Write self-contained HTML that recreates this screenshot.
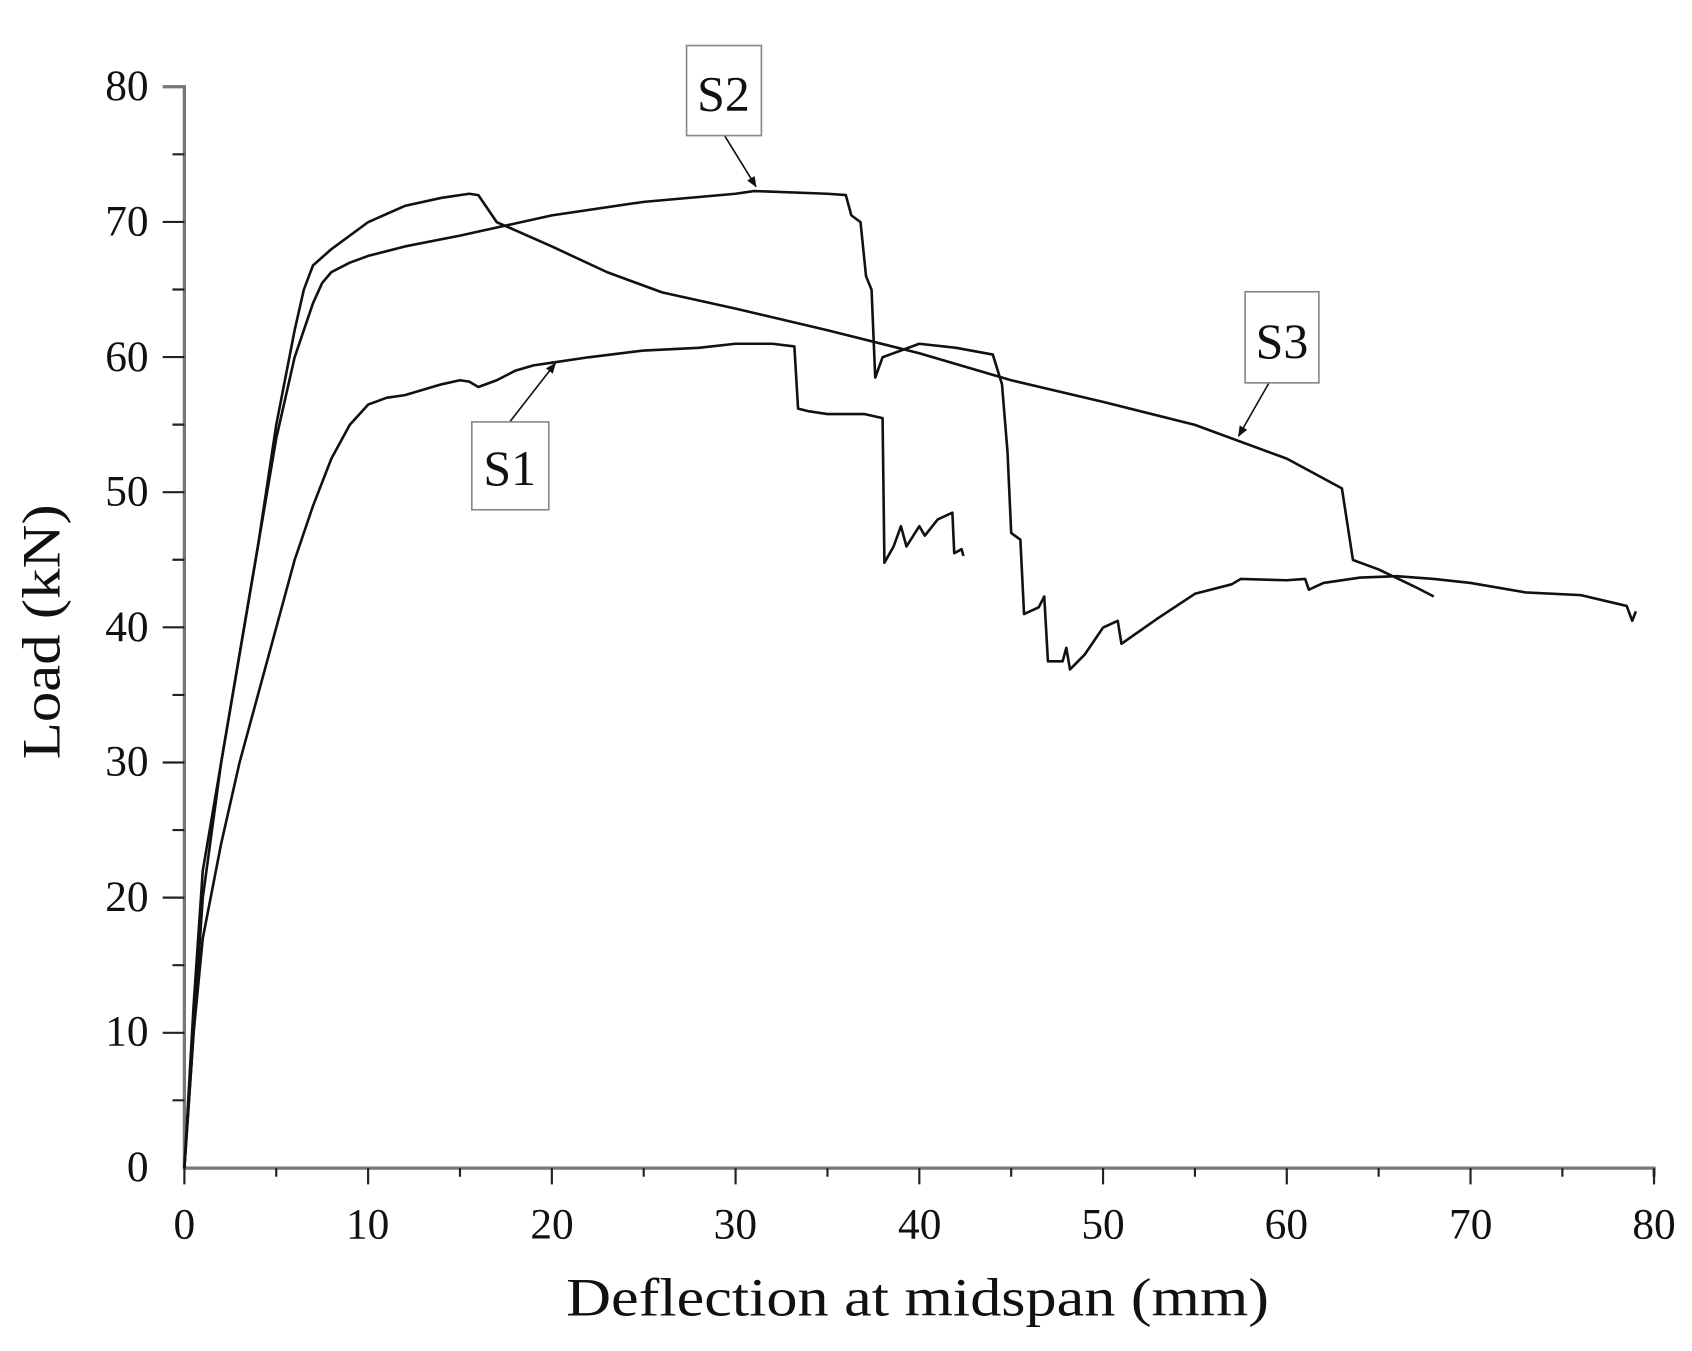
<!DOCTYPE html><html><head><style>body{margin:0;background:#fff}svg{display:block}</style></head><body>
<svg width="1692" height="1351" viewBox="0 0 1560 1245.6" preserveAspectRatio="none" xmlns="http://www.w3.org/2000/svg" font-family="Liberation Serif, serif">
<defs><marker id="ar" markerWidth="10" markerHeight="10" refX="9" refY="5" orient="auto" markerUnits="userSpaceOnUse"><path d="M0,1 L10,5 L0,9 z" fill="#111"/></marker></defs>
<g stroke="#777" stroke-width="3" fill="none">
<path d="M150,80 H170 V1077 H1525 V1085"/>
</g>
<g stroke="#222" stroke-width="2">
<path d="M150,204.6H170M150,329.2H170M150,453.8H170M150,578.4H170M150,703H170M150,827.6H170M150,952.2H170"/>
<path d="M159,142.3H170M159,266.9H170M159,391.5H170M159,516.1H170M159,640.7H170M159,765.3H170M159,889.9H170M159,1014.5H170"/>
<path d="M170,1077v15M339.4,1077v15M508.8,1077v15M678.2,1077v15M847.6,1077v15M1017,1077v15M1186.4,1077v15M1355.8,1077v15M1525,1077v15"/>
<path d="M254.7,1077v8M424.1,1077v8M593.5,1077v8M762.9,1077v8M932.3,1077v8M1101.7,1077v8M1271.1,1077v8M1440.5,1077v8"/>
</g>
<g font-size="40" fill="#111" text-anchor="end">
<text x="137" y="92">80</text><text x="137" y="217">70</text><text x="137" y="342">60</text><text x="137" y="466">50</text><text x="137" y="591">40</text><text x="137" y="715">30</text><text x="137" y="840">20</text><text x="137" y="964">10</text><text x="137" y="1089">0</text>
</g>
<g font-size="40" fill="#111" text-anchor="middle">
<text x="170" y="1142">0</text><text x="339" y="1142">10</text><text x="509" y="1142">20</text><text x="678" y="1142">30</text><text x="848" y="1142">40</text><text x="1017" y="1142">50</text><text x="1186" y="1142">60</text><text x="1356" y="1142">70</text><text x="1525" y="1142">80</text>
</g>
<text x="522" y="1213" font-size="50" textLength="648" lengthAdjust="spacingAndGlyphs" fill="#111">Deflection at midspan (mm)</text>
<text transform="translate(55,700) rotate(-90)" font-size="50" textLength="235" lengthAdjust="spacingAndGlyphs" fill="#111">Load (kN)</text>
<g transform="translate(170,1077) scale(16.94,-12.46)" fill="none" stroke="#111" stroke-width="2.6" stroke-linejoin="round">
<polyline vector-effect="non-scaling-stroke" points="0,0 0.5,10 1,20 2,30 3,38 4,46 5,54 6,60 7,64 7.5,65.5 8,66.3 9,67 10,67.5 12,68.2 15,69 20,70.5 25,71.5 30,72.1 31,72.3 35,72.1 36,72 36.3,70.5 36.8,70 37.1,66 37.4,65 37.6,58.5 38,60 39,60.5 40,61 42,60.7 44,60.2 44.5,58 44.8,53 45,47 45.5,46.5 45.7,41 46.5,41.5 46.8,42.3 47,37.5 47.8,37.5 48,38.5 48.2,36.9 49,38 50,40 50.8,40.5 51,38.8 53,40.7 55,42.5 57,43.2 57.5,43.6 60,43.5 61,43.6 61.2,42.8 62,43.3 64,43.7 66,43.8 68,43.6 70,43.3 73,42.6 76,42.4 78.5,41.6 78.8,40.5 79,41.2"/>
<polyline vector-effect="non-scaling-stroke" points="0,0 0.5,12 1,22 2,30 3,38 4,46 5,55 6,62 6.5,65 7,66.8 8,68 10,70 12,71.2 14,71.8 15.5,72.1 16,72 16.5,71 17,70 20,68.2 23,66.3 26,64.8 30,63.6 35,62 40,60.3 45,58.3 50,56.7 55,55 60,52.5 63,50.3 63.6,45 65,44.3 67,43 68,42.3"/>
<polyline vector-effect="non-scaling-stroke" points="0,0 0.5,10 1,17 2,24 3,30 4,35 5,40 6,45 7,49 8,52.5 9,55 10,56.5 11,57 12,57.2 14,58 15,58.3 15.5,58.2 16,57.8 17,58.3 18,59 19,59.4 20,59.6 22,60 25,60.5 28,60.7 30,61 32,61 33.2,60.8 33.4,56.2 34,56 35,55.8 37,55.8 38,55.5 38.1,44.8 38.6,46 39,47.5 39.3,46 40,47.5 40.3,46.8 41,48 41.8,48.5 41.9,45.5 42.3,45.8 42.4,45.3"/>
</g>
<g stroke="#111" stroke-width="1.5" fill="none">
<line x1="668" y1="125" x2="697" y2="172" marker-end="url(#ar)"/>
<line x1="1170" y1="353" x2="1142" y2="402" marker-end="url(#ar)"/>
<line x1="470" y1="389" x2="512" y2="335" marker-end="url(#ar)"/>
</g>
<g stroke="#888" stroke-width="1.5" fill="#fff">
<rect x="633" y="42" width="69" height="83"/><rect x="1148" y="269" width="68" height="84"/><rect x="435" y="389" width="71" height="81"/>
</g>
<g font-size="46" fill="#111" text-anchor="middle">
<text x="667" y="102">S2</text><text x="1182" y="330">S3</text><text x="470" y="447">S1</text>
</g>
</svg>
</body></html>
